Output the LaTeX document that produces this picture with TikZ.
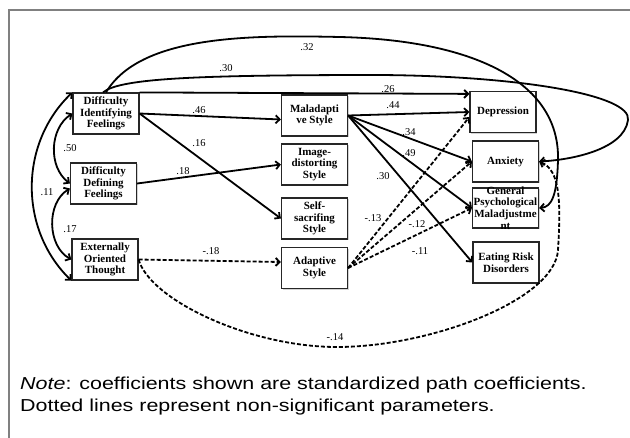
\documentclass[tikz,border=0pt]{standalone}
\usepackage{fontspec}
\setmainfont{Liberation Serif}
\newfontfamily\notefont[FakeStretch=1.24]{Liberation Sans}
\usepackage{tikz}
\usetikzlibrary{
    arrows.meta,
    shadows,
}

\begin{document}
\begin{tikzpicture}[x=1pt,y=-1pt,
    box/.style={draw=black!85,fill=white,line width=1.2pt,
        minimum width=66pt,minimum height=41pt,inner sep=1pt,align=center,
        font=\fontsize{11}{11.6}\selectfont\bfseries,
        drop shadow={shadow xshift=1pt,shadow yshift=-1.2pt,opacity=0.35}},
    boxtext/.style={align=center,inner sep=0pt,
        font=\fontsize{11}{11.6}\selectfont\bfseries},
    lbl/.style={inner sep=0pt,font=\fontsize{10.5}{12}\selectfont},
    arr/.style={line width=1.8pt,-{Straight Barb[length=4pt,width=8pt]}},
    dasharr/.style={arr,dash pattern=on 4pt off 2pt},
    cov/.style={line width=1.8pt,
        {Straight Barb[length=4pt,width=8pt]}-{Straight Barb[length=4pt,width=8pt]}},
]
    \useasboundingbox (0,0) rectangle (630,437);
    % \draw[help lines,step=50pt] (0,0) grid (630,437);

    % Frame
    \draw[black!50,line width=2pt] (8.5,9.5) rectangle (660,470);

    % Alexithymia
    \node[box] (DIF) at (106,113.5) {Difficulty\\Identifying\\Feelings};
    \node[box] (DDF) at (103.5,183.5) {Difficulty\\Defining\\Feelings};
    \node[box] (EOT) at (105,259.5) {Externally\\Oriented\\Thought};

    % Styles
    \node[box] (Mal) at (314.5,115.5) {Maladapti\\ve Style};
    \node[box] (IDS) at (314.5,164.5) {Image-\\distorting\\Style};
    \node[box] (SSS) at (314.5,218.5) {Self-\\sacrifing\\Style};
    \node[box] (Ada) at (314.5,268) {Adaptive\\Style};

    % Outcomes
    \node[box] (Dep) at (503,112) {Depression};
    \node[box] (Anx) at (505.5,161.5) {Anxiety};
    \node[box,minimum height=40pt] (GPM) at (505.5,208) {};
    \node[boxtext] at (GPM) {General\\Psychological\\Maladjustme\\nt};
    \node[box] (ERD) at (506,262.5) {Eating Risk\\Disorders};

    % Correlations
    \draw[cov] (DIF.west) to[bend right=55] (DDF.west);
    \draw[cov] ([yshift=-5pt]DDF.west) to[bend right=60] (EOT.west);
    \draw[cov] (DIF.north west) to[bend right=46] (EOT.south west);
    \node[lbl] at (70,148) {.50};
    \node[lbl] at (70,229) {.17};
    \node[lbl] at (47,192) {.11};

    % Paths to styles
    \draw[arr] (DIF.east) -- ([yshift=-4pt]Mal.west);
    \draw[arr] (DIF.east) -- (SSS.west);
    \draw[arr] (DDF.east) -- (IDS.west);
    \draw[dasharr] (EOT.east) -- ([yshift=6pt]Ada.west);
    \node[lbl] at (199,110) {.46};
    \node[lbl] at (199,143) {.16};
    \node[lbl] at (183,171) {.18};
    \node[lbl] at (211,251) {-.18};

    % Paths to outcomes
    \draw[arr] (DIF.north east) -- ([yshift=-3pt]Dep.north west);
    \draw[arr] (Mal.east) -- (Dep.west);
    \draw[arr] (Mal.east) -- (Anx.west);
    \draw[arr] (Mal.east) -- (GPM.west);
    \draw[arr] (Mal.east) -- (ERD.west);
    \draw[dasharr] (Ada.east) -- ([yshift=-5pt]Dep.west);
    \draw[dasharr] (Ada.east) -- (Anx.west);
    \draw[dasharr] (Ada.east) -- (GPM.west);
    \node[lbl] at (388,89) {.26};
    \node[lbl] at (393,105) {.44};
    \node[lbl] at (409,132) {.34};
    \node[lbl] at (409,153) {.49};
    \node[lbl] at (383,176) {.30};
    \node[lbl] at (373,218) {-.13};
    \node[lbl] at (417,224) {-.12};
    \node[lbl] at (420,251) {-.11};

    % Long curves
    \draw[arr] (DIF.north) .. controls (140,35) and (250,35) .. (340,37)
        .. controls (470,40) and (560,80) .. (558,160)
        .. controls (557,195) and (552,207) .. (GPM.east);
    \draw[arr] ([xshift=-3pt]DIF.north) .. controls (120,78) and (200,75) .. (380,75)
        .. controls (520,76) and (632,95) .. (628,120)
        .. controls (624,150) and (570,160) .. (Anx.east);
    \draw[dasharr] (EOT.east) .. controls (150,300) and (250,347) .. (337,347)
        .. controls (430,347) and (555,300) .. (558,250)
        .. controls (561,200) and (560,170) .. (Anx.east);
    \node[lbl] at (307,47) {.32};
    \node[lbl] at (226,68) {.30};
    \node[lbl] at (335,337) {-.14};

    % Note
    \node[anchor=north west,align=left,inner sep=0pt,
        font=\notefont\fontsize{17.3}{22}\selectfont] (note) at (20,377)
        {\textit{Note}: coefficients shown are standardized path coefficients.\\
        Dotted lines represent non-significant parameters.};
\end{tikzpicture}
\end{document}
